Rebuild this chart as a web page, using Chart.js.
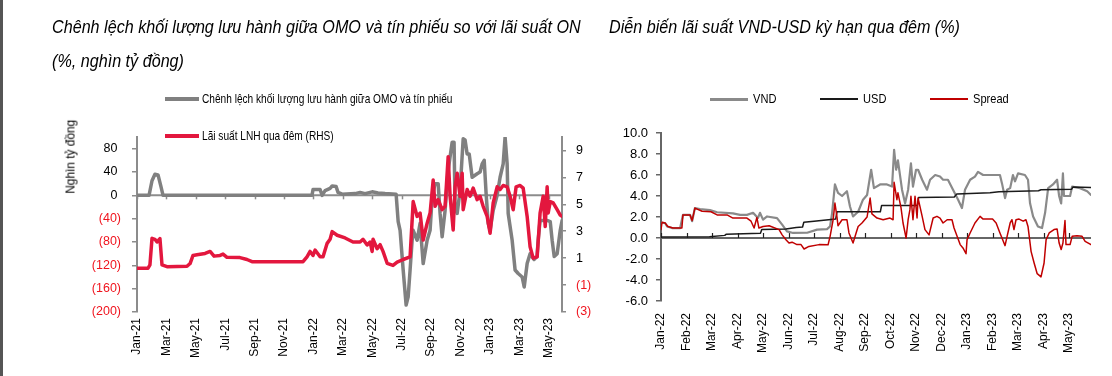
<!DOCTYPE html>
<html><head><meta charset="utf-8">
<script src="https://cdn.jsdelivr.net/npm/chart.js@4/dist/chart.umd.min.js"></script>
<style>
body{margin:0;width:1112px;height:376px;background:#fff;position:relative;overflow:hidden;font-family:'Liberation Sans Narrow','Arial Narrow','Liberation Sans',Arial,sans-serif;color:#000;}
canvas{position:absolute;top:0;}
.t{position:absolute;font-style:italic;font-size:19px;line-height:19px;white-space:nowrap;transform:scaleX(0.85);transform-origin:0 50%;}
.lg{position:absolute;font-size:13.5px;line-height:14px;white-space:nowrap;transform:scaleX(0.75);transform-origin:0 50%;}
.lg2{position:absolute;font-size:13.5px;line-height:14px;white-space:nowrap;transform:scaleX(0.82);transform-origin:0 50%;}
.ln{position:absolute;}
#strip{position:absolute;left:0;top:0;width:3px;height:376px;background:#555;}
#ytitle{position:absolute;font-size:13.5px;white-space:nowrap;transform-origin:center center;}
</style></head>
<body>
<div id="strip"></div>
<canvas id="c1" width="600" height="376" style="left:0"></canvas>
<canvas id="c2" width="512" height="376" style="left:600px"></canvas>
<div class="t" style="left:52px;top:17px">Chênh lệch khối lượng lưu hành giữa OMO và tín phiếu so với lãi suất ON</div>
<div class="t" style="left:52px;top:51px">(%, nghìn tỷ đồng)</div>
<div class="t" style="left:609px;top:17px">Diễn biến lãi suất VND-USD kỳ hạn qua đêm (%)</div>
<div class="ln" style="left:165px;top:97px;width:34px;height:4px;background:#808080"></div>
<div class="lg" style="left:202px;top:92px">Chênh lệch khối lượng lưu hành giữa OMO và tín phiếu</div>
<div class="ln" style="left:165px;top:134px;width:34px;height:4px;background:#e3173e"></div>
<div class="lg" style="left:202px;top:129px">Lãi suất LNH qua đêm (RHS)</div>
<div id="ytitle" style="left:30px;top:151px;width:80px;text-align:center;transform:rotate(-90deg) scaleX(0.88)">Nghìn tỷ đồng</div>
<div class="ln" style="left:710px;top:98px;width:38px;height:2.5px;background:#8a8a8a"></div>
<div class="lg2" style="left:753px;top:92px">VND</div>
<div class="ln" style="left:820px;top:98px;width:38px;height:1.5px;background:#1a1a1a"></div>
<div class="lg2" style="left:863px;top:92px">USD</div>
<div class="ln" style="left:930px;top:98px;width:38px;height:1.5px;background:#c00000"></div>
<div class="lg2" style="left:973px;top:92px">Spread</div>
<script>
// ---- Left chart data (x = months since Jan-21) ----
const gapX = [0,0.82,1.02,1.22,1.43,1.63,1.77,11.9,11.97,12.45,12.59,12.79,13.13,13.27,13.54,13.67,13.95,14.83,15.17,15.51,15.99,16.39,16.87,17.62,17.76,17.89,18.1,18.3,18.44,18.57,18.71,18.78,19.05,19.25,19.39,19.46,19.73,19.93,20.07,20.27,20.48,20.61,20.75,20.95,21.16,21.43,21.56,21.63,21.77,21.97,22.18,22.31,22.45,22.59,22.79,23.13,23.33,23.47,23.61,23.74,23.88,24.01,24.22,24.49,24.69,24.9,25.03,25.17,25.24,25.51,25.71,25.92,26.19,26.33,26.53,26.73,27.0,27.2,27.28,27.41,27.89,28.1,28.23,28.37,28.57,28.78,28.91];
const gapY = [0,0,25,36,35,15,0,0,10,10,0,8,12,16,15,5,2,3,5,3,6,4,3,2,-45,-60,-128,-188,-174,-128,-77,-60,-77,-48,-94,-117,-77,-60,-3,20,20,-31,-71,-26,43,91,91,-20,-31,8,97,95,71,71,31,37,40,54,60,3,-48,-60,-26,0,31,54,100,54,-31,-77,-128,-134,-140,-157,-117,-100,-110,-105,-77,-43,-43,-45,-77,-105,-100,-60,-43];
const onrX = [0,0.75,0.88,1.02,1.22,1.36,1.56,1.7,2.04,3.4,3.61,3.81,4.08,4.63,4.97,5.24,5.65,5.85,6.12,7.0,7.48,7.82,11.29,11.56,11.77,11.97,12.11,12.45,12.65,12.93,13.13,13.27,13.61,14.15,14.69,15.17,15.37,15.65,15.85,15.99,16.05,16.33,16.53,16.73,17.01,17.41,17.69,18.1,18.57,18.78,19.05,19.25,19.46,19.73,19.93,20.14,20.27,20.48,20.75,20.95,21.16,21.29,21.5,21.63,21.77,21.97,22.11,22.18,22.45,22.65,22.86,23.13,23.33,23.54,23.81,24.01,24.22,24.49,24.69,24.9,25.17,25.37,25.58,25.78,26.05,26.26,26.53,26.73,26.94,27.21,27.41,27.62,27.76,27.89,27.96,28.1,28.3,28.57,28.78,28.91];
const onrY = [0.25,0.25,0.5,2.47,2.4,2.2,2.45,0.5,0.37,0.4,0.6,1.2,1.25,1.35,1.5,1.15,1.2,1.3,1.06,1.04,0.9,0.74,0.74,1.1,1.5,1.2,1.6,1.1,1.1,2.1,2.4,2.97,2.7,2.5,2.2,2.2,2.4,1.98,2.2,1.5,2.4,1.7,2.0,1.5,0.62,0.46,0.7,0.9,1.1,5.2,4.1,4.35,2.35,3.6,4.35,6.8,4.85,5.35,4.6,4.85,8.54,5.6,3.1,6.3,7.3,5.6,7.3,4.6,6.1,5.6,6.2,5.35,5.6,4.85,4.1,2.85,5.1,6.3,6.1,6.4,6.3,5.6,4.6,6.3,6.4,6.2,4.1,1.85,1.0,1.1,4.35,5.6,3.35,6.3,4.35,5.2,5.1,4.6,4.2,4.1];
const leftTickLabels = ['Jan-21','Mar-21','May-21','Jul-21','Sep-21','Nov-21','Jan-22','Mar-22','May-22','Jul-22','Sep-22','Nov-22','Jan-23','Mar-23','May-23'];
const leftAxisTicks = [-200,-160,-120,-80,-40,0,40,80];
const rightAxisTicks = [-3,-1,1,3,5,7,9];

// ---- Right chart data (x = months since Jan-22) ----
const vndX = [0,0.16,0.24,0.43,0.75,0.86,1.14,1.22,1.33,1.53,1.92,2.2,2.82,3.1,3.37,3.61,3.8,3.88,4.0,4.16,4.55,4.75,4.94,5.18,5.73,6.12,6.51,6.63,6.71,6.82,6.94,7.1,7.29,7.41,7.53,7.73,7.92,8.08,8.24,8.35,8.59,8.86,9.06,9.14,9.22,9.29,9.45,9.57,9.69,9.8,9.88,10.0,10.08,10.24,10.43,10.55,10.75,10.94,11.06,11.25,11.45,11.65,11.8,11.92,12.12,12.31,12.43,12.63,13.29,13.37,13.49,13.57,13.69,13.8,13.88,14.0,14.27,14.39,14.47,14.59,14.78,14.94,15.06,15.18,15.37,15.53,15.61,15.69,15.76,15.8,16.04,16.12,16.43,16.71,16.86];
const vndY = [1.45,1.43,1.1,0.95,0.95,2.2,2.2,1.6,2.85,2.75,2.65,2.45,2.35,2.2,2.2,2.4,1.9,2.4,1.75,2.05,1.9,1.27,0.63,0.48,0.5,0.8,0.85,1.1,2.4,5.1,4.3,4.0,4.45,3.0,2.05,2.5,3.65,4.1,6.5,4.75,5.1,5.1,4.9,8.4,6.5,7.4,4.6,3.3,4.6,7.1,4.9,6.5,6.5,5.55,4.6,5.55,6.0,5.85,5.55,5.55,4.6,3.65,2.85,4.6,5.55,5.85,6.3,6.0,6.0,5.2,3.8,4.6,4.75,6.0,5.4,6.15,6.0,5.55,3.3,2.05,1.1,0.95,2.4,4.75,5.1,5.55,4.0,3.3,6.15,4.0,4.0,4.9,4.75,4.45,4.1];
const usdX = [0,1.9,2.5,2.55,3.9,3.95,4.9,5.3,5.55,5.6,6.0,6.85,6.9,8.6,8.65,10.05,10.1,11.5,11.6,12.9,13.25,14.8,14.9,16.1,16.15,16.86];
const usdY = [0.1,0.12,0.25,0.35,0.45,0.8,0.85,1.0,1.05,1.5,1.6,1.8,2.5,2.5,3.1,3.1,3.85,3.9,4.2,4.3,4.4,4.5,4.6,4.65,4.85,4.8];
const sprX = [0,0.04,0.16,0.27,0.47,0.82,0.86,1.14,1.22,1.33,1.61,1.96,2.2,2.59,2.82,3.37,3.53,3.65,3.76,3.84,4.0,4.24,4.63,4.75,4.9,5.02,5.14,5.33,5.49,5.61,5.8,6.2,6.55,6.63,6.75,6.82,6.9,6.94,7.1,7.29,7.37,7.53,7.65,7.73,7.88,8.08,8.2,8.27,8.47,8.71,8.98,9.1,9.14,9.25,9.29,9.41,9.49,9.61,9.69,9.76,9.8,9.88,9.96,10.04,10.08,10.24,10.35,10.51,10.67,10.82,10.94,11.06,11.22,11.41,11.49,11.61,11.73,11.84,11.96,12.0,12.12,12.31,12.51,12.63,13.0,13.14,13.29,13.37,13.49,13.57,13.69,13.76,13.84,13.92,14.04,14.2,14.31,14.39,14.51,14.63,14.75,14.9,15.02,15.1,15.22,15.41,15.53,15.61,15.69,15.76,15.84,15.88,16.04,16.12,16.31,16.51,16.63,16.86];
const sprY = [0.8,1.5,1.43,1.1,0.95,0.95,2.2,2.2,1.67,2.85,2.55,2.5,2.2,2.2,1.9,1.9,1.6,0.95,1.95,0.95,1.1,1.17,0.8,0.3,-0.16,-0.48,-0.4,-0.63,-0.63,-1.05,-0.8,-0.63,-0.65,0.16,1.74,3.33,2.0,1.17,1.74,1.74,0.48,-0.48,0.48,1.1,1.43,2.0,3.8,2.3,1.9,1.74,1.9,1.74,5.3,3.65,4.3,2.9,1.43,0.0,1.74,2.7,3.97,1.74,3.97,1.9,3.8,2.06,0.8,0.3,1.9,2.06,1.9,1.43,1.74,1.74,0.95,0.16,-0.63,-0.95,-1.5,-0.16,0.48,1.43,2.06,1.8,1.8,1.43,0.48,0.0,-0.73,0.16,1.43,1.74,0.8,1.74,1.8,1.6,1.74,1.1,-1.27,-2.38,-3.4,-3.7,-2.38,-0.16,0.48,0.8,0.86,-0.48,-1.1,-0.48,1.67,-0.63,-0.63,0.16,0.22,0.16,-0.32,-0.63];
const rightTickLabels = ['Jan-22','Feb-22','Mar-22','Apr-22','May-22','Jun-22','Jul-22','Aug-22','Sep-22','Oct-22','Nov-22','Dec-22','Jan-23','Feb-23','Mar-23','Apr-23','May-23'];
const rateAxisTicks = [-6,-4,-2,0,2,4,6,8,10];

const FONT = "'Liberation Sans',Arial,sans-serif";
const RED_TXT = '#f0141e';
const toPts = (xs, ys) => xs.map((x, i) => ({x: x, y: ys[i]}));
const setTicks = vals => scale => { scale.ticks = vals.map(v => ({value: v})); };
const paren = v => v < 0 ? '(' + Math.abs(v) + ')' : v + ' ';

const zeroAxis = {
  id: 'zeroAxis',
  beforeDatasetsDraw(chart, args, o) {
    const {ctx, chartArea: a, scales} = chart;
    const y0 = scales[o.yId].getPixelForValue(0);
    ctx.save();
    ctx.strokeStyle = o.color; ctx.lineWidth = o.width;
    ctx.beginPath(); ctx.moveTo(a.left, y0); ctx.lineTo(a.right, y0); ctx.stroke();
    ctx.strokeStyle = o.tickColor; ctx.lineWidth = o.tickWidth;
    scales.x.ticks.forEach(t => {
      const x = Math.round(scales.x.getPixelForValue(t.value)) + 0.5;
      ctx.beginPath(); ctx.moveTo(x, y0); ctx.lineTo(x, y0 + o.tickLen); ctx.stroke();
    });
    ctx.restore();
  }
};

const common = {
  responsive: false, animation: false,
  elements: {point: {radius: 0}, line: {tension: 0, borderJoinStyle: 'round', borderCapStyle: 'round'}},
  plugins: {legend: {display: false}, tooltip: {enabled: false}}
};

new Chart(document.getElementById('c1'), {
  type: 'line',
  data: {datasets: [
    {label: 'Lãi suất LNH qua đêm (RHS)', data: toPts(onrX, onrY), yAxisID: 'y1', borderColor: '#e3173e', borderWidth: 3.5, order: 0},
    {label: 'Chênh lệch khối lượng lưu hành giữa OMO và tín phiếu', data: toPts(gapX, gapY), yAxisID: 'y', borderColor: '#808080', borderWidth: 3.5, order: 1}
  ]},
  options: Object.assign({}, common, {
    layout: {padding: {top: 137, left: 0, right: 0, bottom: 0}},
    plugins: Object.assign({}, common.plugins, {zeroAxis: {yId: 'y', color: '#8c8c8c', width: 2, tickColor: '#8c8c8c', tickWidth: 1.5, tickLen: 4}}),
    scales: {
      x: {type: 'linear', min: 0, max: 28.9,
        afterBuildTicks: setTicks(leftTickLabels.map((_, i) => i * 2)),
        afterFit: s => { s.height = 64; },
        grid: {display: false, drawTicks: false}, border: {display: false},
        ticks: {autoSkip: false, maxRotation: 90, minRotation: 90, padding: 6, color: '#000',
          font: {family: FONT, size: 12}, callback: v => leftTickLabels[Math.round(v / 2)]}},
      y: {type: 'linear', position: 'left', min: -200, max: 100,
        afterBuildTicks: setTicks(leftAxisTicks),
        afterFit: s => { s.width = 137; },
        grid: {drawOnChartArea: false, color: '#8c8c8c', tickLength: 5, lineWidth: 1.5},
        border: {color: '#8c8c8c', width: 2},
        ticks: {padding: 11, font: {family: FONT, size: 12.5}, color: c => c.tick.value < 0 ? RED_TXT : '#000', callback: paren}},
      y1: {type: 'linear', position: 'right', min: -3, max: 10,
        afterBuildTicks: setTicks(rightAxisTicks),
        afterFit: s => { s.width = 38; },
        grid: {drawOnChartArea: false, color: '#8c8c8c', tickLength: 4, lineWidth: 1.5},
        border: {color: '#8c8c8c', width: 2},
        ticks: {padding: 10, font: {family: FONT, size: 12.5}, color: c => c.tick.value < 0 ? RED_TXT : '#000', callback: v => v < 0 ? '(' + Math.abs(v) + ')' : String(v)}}
    }
  }),
  plugins: [zeroAxis]
});

new Chart(document.getElementById('c2'), {
  type: 'line',
  data: {datasets: [
    {label: 'Spread', data: toPts(sprX, sprY), borderColor: '#c00000', borderWidth: 1.5, order: 0},
    {label: 'USD', data: toPts(usdX, usdY), borderColor: '#1a1a1a', borderWidth: 1.5, order: 1},
    {label: 'VND', data: toPts(vndX, vndY), borderColor: '#8a8a8a', borderWidth: 2.2, order: 2}
  ]},
  options: Object.assign({}, common, {
    layout: {padding: {top: 133, left: 0, right: 21, bottom: 0}},
    plugins: Object.assign({}, common.plugins, {zeroAxis: {yId: 'y', color: '#666', width: 2, tickColor: '#222', tickWidth: 1.2, tickLen: -5}}),
    scales: {
      x: {type: 'linear', min: 0, max: 16.86,
        afterBuildTicks: setTicks(rightTickLabels.map((_, i) => i)),
        afterFit: s => { s.height = 75; },
        grid: {display: false, drawTicks: false}, border: {display: false},
        ticks: {autoSkip: false, maxRotation: 90, minRotation: 90, padding: 12, color: '#000',
          font: {family: FONT, size: 12}, callback: v => rightTickLabels[Math.round(v)]}},
      y: {type: 'linear', position: 'left', min: -6, max: 10,
        afterBuildTicks: setTicks(rateAxisTicks),
        afterFit: s => { s.width = 61; },
        grid: {drawOnChartArea: false, color: '#666', tickLength: 5, lineWidth: 1.5},
        border: {color: '#666', width: 2},
        ticks: {padding: 8, font: {family: FONT, size: 13}, color: '#000', callback: v => v.toFixed(1)}}
    }
  }),
  plugins: [zeroAxis]
});
</script>
</body></html>
